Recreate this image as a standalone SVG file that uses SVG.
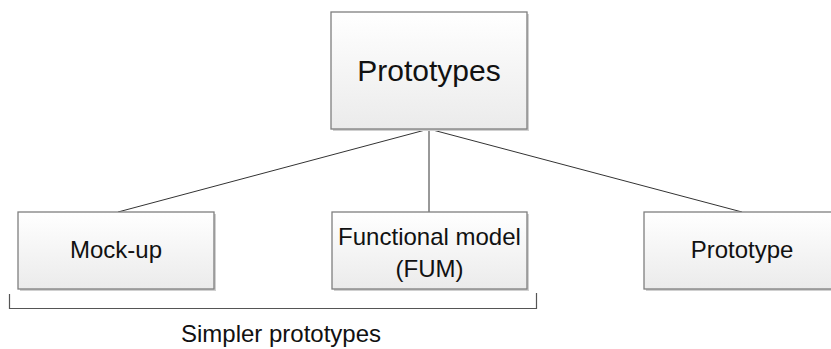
<svg xmlns="http://www.w3.org/2000/svg" width="831" height="349" viewBox="0 0 831 349">
  <defs>
    <linearGradient id="boxFill" x1="0" y1="0" x2="0" y2="1">
      <stop offset="0" stop-color="#ffffff"/>
      <stop offset="1" stop-color="#ebebeb"/>
    </linearGradient>
    <style>
      .box { fill: url(#boxFill); stroke: #7f7f7f; stroke-width: 1.3; }
      .shadow { fill: #d0d0d0; }
      .lbl { font-family: "Liberation Sans", Arial, sans-serif; font-size: 24px; fill: #111; text-anchor: middle; }
      .title { font-size: 30px; }
      .conn { stroke: #333; stroke-width: 1; fill: none; }
      .brace { stroke: #555; stroke-width: 1.2; fill: none; }
    </style>
  </defs>
  <rect width="831" height="349" fill="#ffffff"/>
  <g id="connectors">
    <line class="conn" x1="429" y1="129" x2="118" y2="212"/>
    <line class="conn" x1="429" y1="129" x2="429" y2="212"/>
    <line class="conn" x1="429" y1="129" x2="742" y2="212"/>
  </g>
  <g id="prototypes">
    <rect class="shadow" x="333" y="14" width="196" height="117"/>
    <rect class="box" x="331" y="12" width="196" height="117"/>
    <text class="lbl title" x="429" y="81">Prototypes</text>
  </g>
  <g id="mockup">
    <rect class="shadow" x="20" y="214" width="196" height="77"/>
    <rect class="box" x="18" y="212" width="196" height="77"/>
    <text class="lbl" x="116" y="258">Mock-up</text>
  </g>
  <g id="fum">
    <rect class="shadow" x="334" y="214" width="195" height="77"/>
    <rect class="box" x="332" y="212" width="195" height="77"/>
    <text class="lbl" x="429.5" y="245">Functional model</text>
    <text class="lbl" x="429.5" y="277">(FUM)</text>
  </g>
  <g id="prototype">
    <rect class="shadow" x="646" y="214" width="196" height="77"/>
    <rect class="box" x="644" y="212" width="196" height="77"/>
    <text class="lbl" x="742" y="258">Prototype</text>
  </g>
  <g id="simpler">
    <polyline class="brace" points="9.5,294 9.5,308.5 536.5,308.5 536.5,293"/>
    <text class="lbl" x="281" y="342">Simpler prototypes</text>
  </g>
</svg>
